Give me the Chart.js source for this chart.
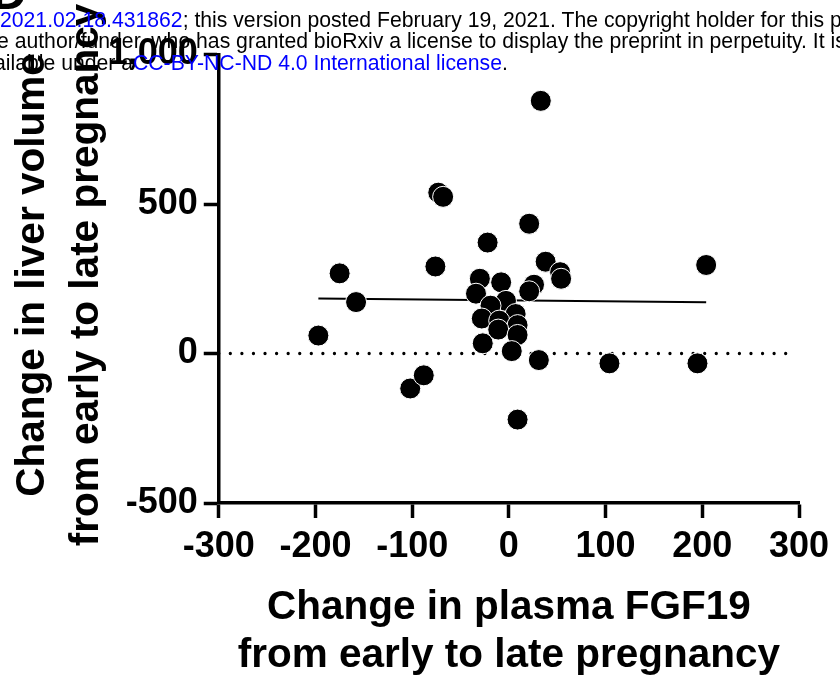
<!DOCTYPE html>
<html>
<head>
<meta charset="utf-8">
<title>FGF19 vs liver volume</title>
<script src="https://cdn.jsdelivr.net/npm/chart.js@4.4.1/dist/chart.umd.min.js"></script>
<style>
  html, body { margin: 0; padding: 0; background: #fff; overflow: hidden; }
  #wrap { position: relative; width: 840px; height: 682px; overflow: hidden; }
  #c { position: absolute; left: 0; top: 0; }
  .note {
    position: absolute; left: -6px; white-space: nowrap;
    font-family: "Liberation Sans", Arial, sans-serif;
    font-size: 21.2px; line-height: 21.5px; color: #000;
  }
  .blue { color: #0000ff; }
  .panel {
    position: absolute; left: -8px; top: -31px;
    font: bold 48px/48px "Liberation Sans", Arial, sans-serif; color: #000;
  }
</style>
</head>
<body>
<div id="wrap">
  <canvas id="c" width="840" height="682"></canvas>
  <div class="panel">D</div>
  <div class="note" style="top:8.9px;left:0"><span class="blue">2021.02.18.431862</span>; this version posted February 19, 2021. The copyright holder for this preprint</div>
  <div class="note" style="top:30.2px;left:-3px">e author/funder, who has granted bioRxiv a license to display the preprint in perpetuity. It is made</div>
  <div class="note" style="top:51.5px">ailable under a<span class="blue">CC-BY-NC-ND 4.0 International license</span>.</div>
</div>
<script>
// Change from early to late pregnancy, one entry per participant
const fgf19Change = [
  -197, -175, -158, -102, -88, -76, -73, -68,
  -22, -30, -8, -34, -3, -19, -28, 7, -10, 9, -11, 9, -27, 3, 31, 9,
  21, 33, 38, 53, 54, 26, 21,
  204, 104, 195
];
const liverVolumeChange = [
  60, 268, 172, -117, -73, 291, 538, 524,
  371, 250, 238, 200, 176, 160, 117, 132, 110, 95, 80, 62, 34, 8, -22, -221,
  434, 845, 307, 272, 250, 230, 208,
  296, -33, -33
];

// Linear fit drawn across the FGF19 range
const fitX = [-197, 204];
const fitY = [184, 171];

// Zero reference line
const zeroLineX = [-300, 290];
const zeroLineY = [0, 0];

const xTickValues = [-300, -200, -100, 0, 100, 200, 300];
const yTickValues = [-500, 0, 500, 1000];

const xTitleLines = ['Change in plasma FGF19', 'from early to late pregnancy'];
const yTitleLines = ['Change in liver volume', 'from early to late pregnancy'];

const FONT = '"Liberation Sans", Arial, sans-serif';

const points = fgf19Change.map((x, i) => ({ x, y: liverVolumeChange[i] }));
const fitPoints = fitX.map((x, i) => ({ x, y: fitY[i] }));
const zeroPoints = zeroLineX.map((x, i) => ({ x, y: zeroLineY[i] }));

// Two-line rotated y-axis title
const yTitlePlugin = {
  id: 'yTitle',
  afterDraw(chart) {
    const ctx = chart.ctx;
    ctx.save();
    ctx.translate(44, 275);
    ctx.rotate(-Math.PI / 2);
    ctx.font = 'bold 40.5px ' + FONT;
    ctx.fillStyle = '#000';
    ctx.textAlign = 'center';
    ctx.textBaseline = 'alphabetic';
    yTitleLines.forEach((line, i) => ctx.fillText(line, 0, i * 54));
    ctx.restore();
  }
};

const axisCommon = {
  type: 'linear',
  grid: {
    drawOnChartArea: false,
    drawTicks: true,
    tickLength: 15,
    tickWidth: 3.5,
    tickColor: '#000'
  },
  border: { display: true, color: '#000', width: 3.5 }
};

new Chart(document.getElementById('c'), {
  data: {
    datasets: [
      {
        type: 'scatter',
        data: points,
        order: 0,
        pointRadius: 10.5,
        pointBackgroundColor: '#000',
        pointBorderColor: '#fff',
        pointBorderWidth: 1,
        pointHoverRadius: 10.5
      },
      {
        type: 'line',
        data: fitPoints,
        order: 1,
        borderColor: '#000',
        borderWidth: 2,
        pointRadius: 0,
        fill: false
      },
      {
        type: 'line',
        data: zeroPoints,
        order: 2,
        borderColor: '#000',
        borderWidth: 3.3,
        borderDash: [0, 11.57],
        borderCapStyle: 'round',
        pointRadius: 0,
        fill: false
      }
    ]
  },
  options: {
    responsive: false,
    animation: false,
    devicePixelRatio: 1,
    layout: { padding: { top: 54.5, right: 41, bottom: 0, left: 0 } },
    plugins: { legend: { display: false }, tooltip: { enabled: false } },
    scales: {
      x: {
        ...axisCommon,
        position: 'bottom',
        min: -300, max: 300,
        afterBuildTicks: s => { s.ticks = xTickValues.map(v => ({ value: v })); },
        afterFit: s => { s.height = 179; },
        ticks: {
          color: '#000',
          font: { family: FONT, size: 36, weight: 'bold' },
          padding: 7,
          maxRotation: 0,
          autoSkip: false
        },
        title: {
          display: true,
          text: xTitleLines,
          color: '#000',
          font: { family: FONT, size: 40.5, weight: 'bold', lineHeight: 1.2 },
          padding: { top: 0, bottom: 1.5 }
        }
      },
      y: {
        ...axisCommon,
        position: 'left',
        min: -500, max: 1000,
        afterBuildTicks: s => { s.ticks = yTickValues.map(v => ({ value: v })); },
        afterFit: s => { s.width = 218.75; },
        ticks: {
          color: '#000',
          font: { family: FONT, size: 36, weight: 'bold' },
          padding: 6,
          autoSkip: false
        }
      }
    }
  },
  plugins: [yTitlePlugin]
});
</script>
</body>
</html>
